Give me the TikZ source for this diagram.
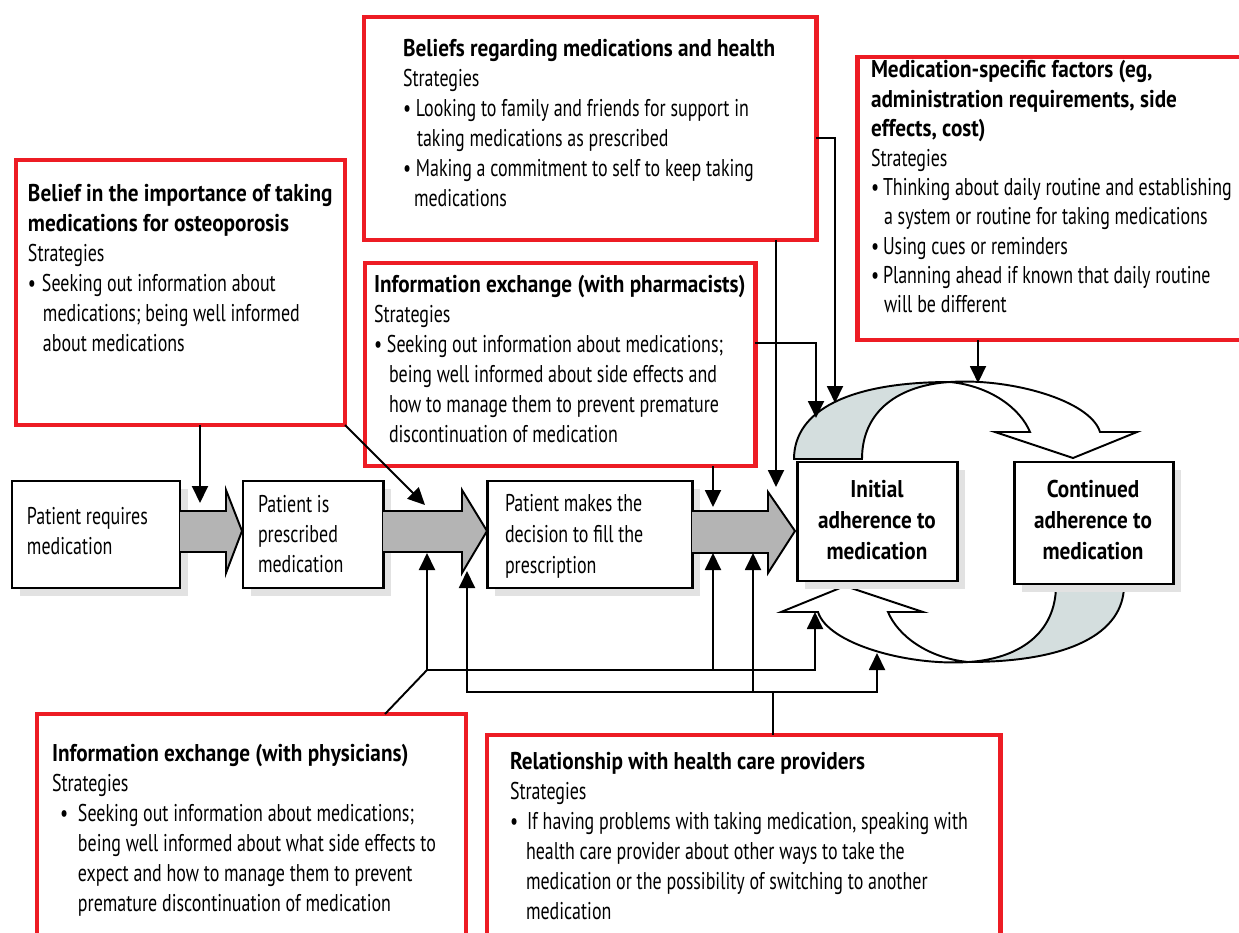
\documentclass[tikz,border=0pt]{standalone}
\usepackage{fontspec}
\setmainfont{PT Sans}[FakeStretch=0.74, BoldFeatures={FakeStretch=0.875}]
\usetikzlibrary{arrows.meta,shadows}
\definecolor{myred}{RGB}{237,28,36}
\definecolor{arrowgray}{RGB}{180,180,180}
\definecolor{shadowgray}{RGB}{226,226,226}
\definecolor{cresgray}{RGB}{212,222,222}
\newcommand\fl{\rule{0pt}{12pt}}
\newcommand\mkbox[6]{\node[#6, minimum width={(#4-(#2))*0.02cm}, minimum height={(#5-(#3))*0.02cm}, anchor=north west] (#1) at (#2,#3) {};}
\tikzset{
  redbox/.style={draw=myred, line width=2.83pt, fill=white, rectangle, inner sep=0pt, outer sep=0pt},
  flowbox/.style={draw=black, line width=1.7pt, fill=white, rectangle, inner sep=0pt, outer sep=0pt,
    drop shadow={shadow xshift=0.16cm, shadow yshift=-0.16cm, fill=shadowgray, opacity=1}},
  txt/.style={inner sep=0pt, outer sep=0pt, align=left, anchor=north west, font=\fontsize{13.8pt}{17.07pt}\selectfont},
  ctxt/.style={inner sep=0pt, outer sep=0pt, align=center, anchor=north, font=\fontsize{13.8pt}{17.6pt}\selectfont\bfseries},
  conn/.style={line width=1.1pt, draw=black},
  arr/.style={conn, -{Triangle[length=0.34cm,width=0.32cm]}},
  blk/.style={draw=black, line width=1.1pt, line join=miter},
  cres/.style={fill=cresgray, draw=black, line width=1.1pt},
  wcres/.style={fill=white, draw=black, line width=1.1pt},
}
\begin{document}
\begin{tikzpicture}[x=0.02cm,y=-0.02cm]
\useasboundingbox (0,0) rectangle (1239,932);
\clip (0,0) rectangle (1239,932);
\fill[white] (0,0) rectangle (1239,932);

% red factor boxes
\mkbox{b1}{16}{160}{345}{425}{redbox}
\mkbox{b2}{364}{17}{816}{240}{redbox}
\mkbox{b3}{857}{57}{1250}{340}{redbox}
\mkbox{b4}{365}{263}{755}{466}{redbox}
\mkbox{b5}{37}{714}{466}{960}{redbox}
\mkbox{b6}{487}{735}{1000}{960}{redbox}

% texts of red boxes
\node[txt] (tb1) at (28,{202-21.1}) {\fl\textbf{Belief in the importance of taking}\\
\textbf{medications for osteoporosis}\\
Strategies\\
\makebox[0.28cm][l]{\textbullet}Seeking out information about\\
\hspace*{0.3cm}medications; being well informed\\
\hspace*{0.3cm}about medications};

\node[txt] (tb2) at (403,{57-21.1}) {\fl\textbf{Beliefs regarding medications and health}\\
Strategies\\
\makebox[0.26cm][l]{\textbullet}Looking to family and friends for support in\\
\hspace*{0.28cm}taking medications as prescribed\\
\makebox[0.26cm][l]{\textbullet}Making a commitment to self to keep taking\\
\hspace*{0.22cm}medications};

\node[txt, font=\fontsize{13.8pt}{16.7pt}\selectfont] (tb3) at (871,{78-21.1}) {\fl\textbf{Medication-specific factors (eg,}\\
\textbf{administration requirements, side}\\
\textbf{effects, cost)}\\
Strategies\\
\makebox[0.24cm][l]{\textbullet}Thinking about daily routine and establishing\\
\hspace*{0.26cm}a system or routine for taking medications\\
\makebox[0.24cm][l]{\textbullet}Using cues or reminders\\
\makebox[0.24cm][l]{\textbullet}Planning ahead if known that daily routine\\
\hspace*{0.26cm}will be different};

\node[txt] (tb4) at (374,{293-21.1}) {\fl\textbf{Information exchange (with pharmacists)}\\
Strategies\\
\makebox[0.26cm][l]{\textbullet}Seeking out information about medications;\\
\hspace*{0.3cm}being well informed about side effects and\\
\hspace*{0.3cm}how to manage them to prevent premature\\
\hspace*{0.3cm}discontinuation of medication};

\node[txt] (tb5) at (52,{762-21.1}) {\fl\textbf{Information exchange (with physicians)}\\
Strategies\\
\hspace*{0.16cm}\makebox[0.36cm][l]{\textbullet}Seeking out information about medications;\\
\hspace*{0.52cm}being well informed about what side effects to\\
\hspace*{0.52cm}expect and how to manage them to prevent\\
\hspace*{0.52cm}premature discontinuation of medication};

\node[txt] (tb6) at (510,{770-21.1}) {\fl\textbf{Relationship with health care providers}\\
Strategies\\
\makebox[0.34cm][l]{\textbullet}If having problems with taking medication, speaking with\\
\hspace*{0.32cm}health care provider about other ways to take the\\
\hspace*{0.32cm}medication or the possibility of switching to another\\
\hspace*{0.32cm}medication};

% cycle arrows
\filldraw[cres] (794,459) .. controls (794,410) and (850,382) .. (950,382)
  .. controls (900,385) and (862,410) .. (862,459) -- cycle;
\filldraw[wcres] (950,382) .. controls (1010,378) and (1090,400) .. (1100,432)
  -- (1137,432) -- (1073,458) -- (995,432) -- (1030,432)
  .. controls (1020,408) and (990,386) .. (950,382) -- cycle;
\begin{scope}[rotate around={180:(959,522)}]
\filldraw[cres] (794,459) .. controls (794,410) and (850,382) .. (950,382)
  .. controls (900,385) and (862,410) .. (862,459) -- cycle;
\filldraw[wcres] (950,382) .. controls (1010,378) and (1090,400) .. (1100,432)
  -- (1137,432) -- (1073,458) -- (995,432) -- (1030,432)
  .. controls (1020,408) and (990,386) .. (950,382) -- cycle;
\end{scope}

% flow boxes
\mkbox{fa}{12}{481}{180}{588}{flowbox}
\mkbox{fb}{243}{481}{383}{588}{flowbox}
\mkbox{fc}{487}{481}{692}{588}{flowbox}
\mkbox{fd}{797}{462}{957}{581}{flowbox}
\mkbox{fe}{1014}{462}{1173}{584}{flowbox}

\node[txt] (ta) at (27,{525-21.1}) {\fl Patient requires\\medication};
\node[txt, font=\fontsize{13.8pt}{16.8pt}\selectfont] (tb) at (258,{513-21.1}) {\fl Patient is\\prescribed\\medication};
\node[txt, font=\fontsize{13.8pt}{17.4pt}\selectfont] (tc) at (505,{512-21.1}) {\fl Patient makes the\\decision to fill the\\prescription};
\node[ctxt] (td) at (877,{498-21.1}) {\fl Initial\\adherence to\\medication};
\node[ctxt] (te) at (1093,{498-21.1}) {\fl Continued\\adherence to\\medication};

% block arrows
\fill[arrowgray] (180,511) -- (226,511) -- (226,490) -- (242,531) -- (226,573) -- (226,552) -- (180,552) -- cycle;
\draw[blk] (180,511) -- (226,511) -- (226,490) -- (242,531) -- (226,573) -- (226,552) -- (180,552);
\fill[arrowgray] (383,511) -- (462,511) -- (462,490) -- (487,531) -- (462,573) -- (462,552) -- (383,552) -- cycle;
\draw[blk] (383,511) -- (462,511) -- (462,490) -- (487,531) -- (462,573) -- (462,552) -- (383,552);
\fill[arrowgray] (692,511) -- (768,511) -- (768,492) -- (795,531) -- (768,573) -- (768,553) -- (692,553) -- cycle;
\draw[blk] (692,511) -- (768,511) -- (768,492) -- (795,531) -- (768,573) -- (768,553) -- (692,553);

% connectors from top boxes
\coordinate (t1) at (200,503);
\draw[arr] (b1.south -| t1) -- (t1);
\coordinate (t2) at (425,505);
\draw[arr] (b1.south east) -- (t2);
\coordinate (t3) at (713,507);
\draw[arr] (b4.south -| t3) -- (t3);
\coordinate (t4) at (776,487);
\draw[arr] (b2.south -| t4) -- (t4);
\coordinate (s5) at (b2.east |- 0,138);
\coordinate (t5) at (835,403);
\draw[arr] (s5) -| (t5);
\coordinate (s6) at (b4.east |- 0,343);
\coordinate (t6) at (816,418);
\draw[arr] (s6) -| (t6);
\coordinate (t7) at (978,383);
\draw[arr] (b3.south -| t7) -- (t7);

% connectors from bottom boxes
\coordinate (s8) at (b5.north -| 385,0);
\coordinate (j1) at (427,670);
\coordinate (j3) at (713,670);
\coordinate (t8a) at (427,553);
\coordinate (t8b) at (815,612);
\coordinate (t8c) at (713,553);
\draw[conn] (s8) -- (j1);
\draw[arr] (j1) -- (t8a);
\draw[arr] (j1) -| (t8b);
\draw[arr] (j3) -- (t8c);

\coordinate (k1) at (773,692);
\coordinate (k4) at (753,692);
\coordinate (t9a) at (467,571);
\coordinate (t9b) at (877,653);
\coordinate (t9c) at (753,553);
\draw[conn] (b6.north -| k1) -- (k1);
\draw[arr] (k1) -| (t9a);
\draw[arr] (k1) -| (t9b);
\draw[arr] (k4) -- (t9c);
\end{tikzpicture}
\end{document}
